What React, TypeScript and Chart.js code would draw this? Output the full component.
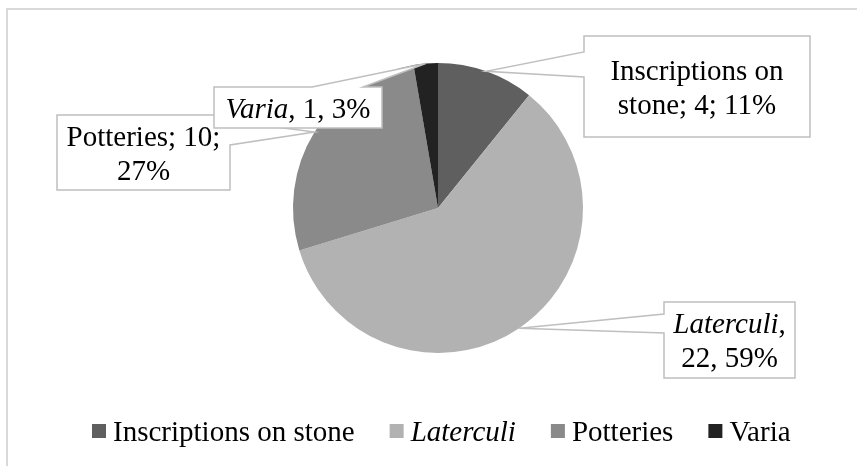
import React, { useEffect, useRef } from 'react';
import { Chart, registerables } from 'chart.js';

Chart.register(...registerables);

// ---- data ----
const categories = ['Inscriptions on stone', 'Laterculi', 'Potteries', 'Varia'];
const counts = [4, 22, 10, 1];
const sliceColors = ['#5f5f5f', '#b2b2b2', '#8a8a8a', '#222222'];
const labelNameItalic = [false, true, false, true];
const legendNameItalic = [false, true, false, false];
const labelSeparators = [';', ',', ';', ','];

// ---- layout (positions of the callout boxes) ----
type Side = 'left' | 'right' | 'top';
const CALLOUTS: { x: number; y: number; w: number; h: number; side: Side; p1: number; p2: number }[] = [
  { x: 584, y: 36, w: 226, h: 101, side: 'left', p1: 52, p2: 77 },
  { x: 664, y: 302, w: 131, h: 76, side: 'left', p1: 314, p2: 333 },
  { x: 57, y: 115, w: 173, h: 75, side: 'right', p1: 121, p2: 145 },
  { x: 214, y: 87, w: 168, h: 41, side: 'top', p1: 312, p2: 363 },
];

const FONT_FAMILY = "'Liberation Serif', 'Times New Roman', serif";
const FONT_SIZE = 29;
const fontOf = (italic: boolean) => `${italic ? 'italic ' : ''}${FONT_SIZE}px ${FONT_FAMILY}`;

type Run = { t: string; it: boolean };
type Word = Run[];

function buildWords(i: number): Word[] {
  const total = counts.reduce((a, b) => a + b, 0);
  const pct = Math.round((counts[i] / total) * 100);
  const sep = labelSeparators[i];
  const nameWords = categories[i].split(' ');
  const words: Word[] = nameWords.map((w) => [{ t: w, it: labelNameItalic[i] }]);
  words[words.length - 1].push({ t: sep, it: false });
  words.push([{ t: String(counts[i]) + sep, it: false }]);
  words.push([{ t: pct + '%', it: false }]);
  return words;
}

function wordWidth(ctx: CanvasRenderingContext2D, w: Word) {
  let s = 0;
  for (const r of w) {
    ctx.font = fontOf(r.it);
    s += ctx.measureText(r.t).width;
  }
  return s;
}

const calloutPlugin = {
  id: 'callouts',
  beforeDraw(chart: any) {
    const ctx: CanvasRenderingContext2D = chart.ctx;
    ctx.save();
    ctx.fillStyle = '#ffffff';
    ctx.fillRect(0, 0, chart.width, chart.height);
    ctx.strokeStyle = '#d9d9d9';
    ctx.lineWidth = 2;
    ctx.beginPath();
    ctx.moveTo(7, chart.height + 5);
    ctx.lineTo(7, 9);
    ctx.lineTo(chart.width + 5, 9);
    ctx.stroke();
    ctx.restore();
  },
  afterDatasetsDraw(chart: any) {
    const ctx: CanvasRenderingContext2D = chart.ctx;
    const meta = chart.getDatasetMeta(0);
    ctx.save();
    meta.data.forEach((arc: any, i: number) => {
      const c = CALLOUTS[i];
      if (!c) return;
      const { x, y, startAngle, endAngle, outerRadius } = arc.getProps(
        ['x', 'y', 'startAngle', 'endAngle', 'outerRadius'],
        true
      );
      const mid = (startAngle + endAngle) / 2;
      const tx = x + outerRadius * Math.cos(mid);
      const ty = y + outerRadius * Math.sin(mid);
      // outline path with wedge
      ctx.beginPath();
      ctx.moveTo(c.x, c.y);
      if (c.side === 'top') {
        ctx.lineTo(c.p1, c.y);
        ctx.lineTo(tx, ty);
        ctx.lineTo(c.p2, c.y);
      }
      ctx.lineTo(c.x + c.w, c.y);
      if (c.side === 'right') {
        ctx.lineTo(c.x + c.w, c.p1);
        ctx.lineTo(tx, ty);
        ctx.lineTo(c.x + c.w, c.p2);
      }
      ctx.lineTo(c.x + c.w, c.y + c.h);
      ctx.lineTo(c.x, c.y + c.h);
      if (c.side === 'left') {
        ctx.lineTo(c.x, c.p2);
        ctx.lineTo(tx, ty);
        ctx.lineTo(c.x, c.p1);
      }
      ctx.closePath();
      ctx.fillStyle = '#ffffff';
      ctx.fill();
      ctx.strokeStyle = '#bfbfbf';
      ctx.lineWidth = 1.5;
      ctx.stroke();

      // text
      const words = buildWords(i);
      ctx.font = fontOf(false);
      const space = ctx.measureText(' ').width;
      const maxW = c.w - 12;
      const lines: Word[][] = [];
      let cur: Word[] = [];
      let curW = 0;
      for (const w of words) {
        const ww = wordWidth(ctx, w);
        const add = cur.length ? space + ww : ww;
        if (cur.length && curW + add > maxW) {
          lines.push(cur);
          cur = [w];
          curW = ww;
        } else {
          cur.push(w);
          curW += add;
        }
      }
      if (cur.length) lines.push(cur);
      const lh = 34;
      const cy = c.y + c.h / 2;
      ctx.fillStyle = '#000000';
      ctx.textBaseline = 'alphabetic';
      lines.forEach((ln, li) => {
        let lw = 0;
        ln.forEach((w, wi) => {
          lw += wordWidth(ctx, w) + (wi ? space : 0);
        });
        let px = c.x + c.w / 2 - lw / 2;
        const by = cy - ((lines.length - 1) * lh) / 2 + (li * lh) + 10;
        ln.forEach((w, wi) => {
          if (wi) px += space;
          for (const r of w) {
            ctx.font = fontOf(r.it);
            ctx.fillText(r.t, px, by);
            px += ctx.measureText(r.t).width;
          }
        });
      });
    });

    // legend
    let lx = 92;
    const base = 441;
    categories.forEach((name, i) => {
      ctx.fillStyle = sliceColors[i];
      ctx.fillRect(lx, 424, 14, 14);
      lx += 14 + 7;
      ctx.font = fontOf(legendNameItalic[i]);
      ctx.fillStyle = '#000000';
      ctx.fillText(name, lx, base);
      lx += ctx.measureText(name).width + 35;
    });
    ctx.restore();
  },
};

export default function App() {
  const ref = useRef<HTMLCanvasElement | null>(null);
  useEffect(() => {
    if (!ref.current) return;
    const chart = new Chart(ref.current, {
      type: 'pie',
      data: {
        labels: categories,
        datasets: [
          {
            data: counts,
            backgroundColor: sliceColors,
            borderWidth: 0,
            radius: 145,
          } as any,
        ],
      },
      options: {
        responsive: false,
        animation: false,
        devicePixelRatio: 1,
        layout: { padding: { left: 288, right: 269, top: 58, bottom: 108 } },
        plugins: {
          legend: { display: false },
          tooltip: { enabled: false },
        },
      },
      plugins: [calloutPlugin],
    });
    return () => chart.destroy();
  }, []);
  return (
    <div style={{ position: 'absolute', left: 0, top: 0, width: 857, height: 466, background: '#fff' }}>
      <canvas ref={ref} width={857} height={466} style={{ display: 'block' }} />
    </div>
  );
}
